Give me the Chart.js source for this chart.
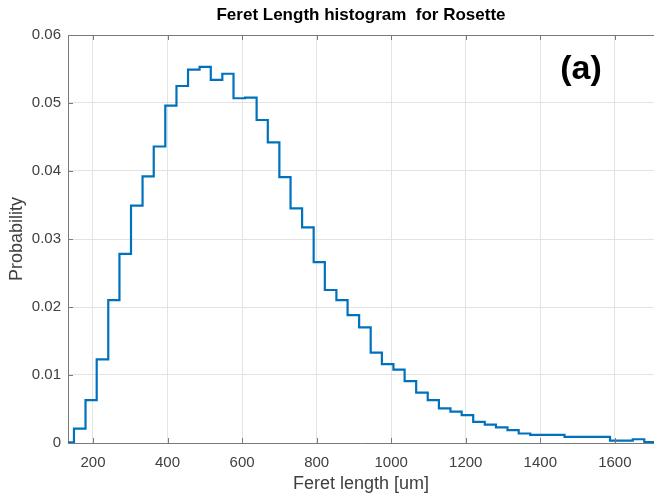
<!DOCTYPE html>
<html>
<head>
<meta charset="utf-8">
<script src="https://cdn.jsdelivr.net/npm/chart.js@4.4.0/dist/chart.umd.min.js"></script>
<style>
  html, body { margin: 0; padding: 0; background: #fff; }
  #wrap { width: 654px; height: 499px; }
</style>
</head>
<body>
<div id="wrap"><canvas id="grafica" width="654" height="499"></canvas></div>
<script>
// --------------------- DATOS DEL HISTOGRAMA ---------------------
// bordes de los bins (borde izquierdo de cada bin + borde final)
const bordesBin = [118, 149, 180, 210, 241, 271, 302, 333, 363, 394, 424, 455, 486, 516, 547, 577,
  608, 639, 669, 700, 730, 761, 792, 822, 853, 883, 914, 945, 975, 1006, 1036, 1067, 1098, 1128,
  1159, 1189, 1220, 1251, 1281, 1312, 1342, 1373, 1404, 1434, 1465, 1495, 1526, 1557, 1587, 1618,
  1648, 1679, 1710];

// probabilidad de cada bin
const probabilidad = [0.0001, 0.0021, 0.0063, 0.0123, 0.0210, 0.0278, 0.0349, 0.0392, 0.0436, 0.0496,
  0.0525, 0.0549, 0.0553, 0.0534, 0.0543, 0.0507, 0.0508, 0.0475, 0.0442, 0.0391, 0.0345, 0.0317,
  0.0266, 0.0225, 0.0210, 0.0188, 0.0170, 0.0133, 0.0116, 0.0108, 0.0091, 0.0074, 0.0063, 0.0051,
  0.0046, 0.0041, 0.0031, 0.0027, 0.0023, 0.0019, 0.0014, 0.0012, 0.0012, 0.0012, 0.0009, 0.0009,
  0.0009, 0.0009, 0.00035, 0.00035, 0.00055, 0.00015];

// marcas de los ejes
const ticksX = [200, 400, 600, 800, 1000, 1200, 1400, 1600];
const ticksY = [0, 0.01, 0.02, 0.03, 0.04, 0.05, 0.06];

// --------------------- PUNTOS PARA LA ESCALERA ---------------------
// cada punto abre su bin, el ultimo cierra el bin final
const puntos = bordesBin.map((b, i) => ({
  x: b,
  y: probabilidad[Math.min(i, probabilidad.length - 1)]
}));

const fuente = '"Liberation Sans", Arial, Helvetica, sans-serif';
const colorEje = '#7a7a7a';

// --------------------- MARCAS INTERNAS, CAJA Y ETIQUETA (a) ---------------------
const marcasInternas = {
  id: 'marcasInternas',
  afterDatasetsDraw(chart) {
    const { ctx, chartArea: a, scales: { x, y } } = chart;
    ctx.save();
    ctx.strokeStyle = colorEje;
    ctx.lineWidth = 1;
    ctx.beginPath();
    // linea superior de la caja
    ctx.moveTo(a.left, a.top + 0.5);
    ctx.lineTo(a.right, a.top + 0.5);
    ticksX.forEach(v => {
      const px = Math.round(x.getPixelForValue(v)) + 0.5;
      ctx.moveTo(px, a.bottom);
      ctx.lineTo(px, a.bottom - 5);
      ctx.moveTo(px, a.top);
      ctx.lineTo(px, a.top + 5);
    });
    ticksY.forEach(v => {
      const py = Math.round(y.getPixelForValue(v)) + 0.5;
      ctx.moveTo(a.left, py);
      ctx.lineTo(a.left + 5, py);
    });
    ctx.stroke();

    // etiqueta del panel
    ctx.fillStyle = '#000';
    ctx.font = 'bold 34px ' + fuente;
    ctx.textAlign = 'center';
    ctx.textBaseline = 'middle';
    ctx.fillText('(a)', 581, 70);
    ctx.restore();
  }
};

// --------------------- GRAFICA ---------------------
new Chart(document.getElementById('grafica'), {
  type: 'line',
  data: {
    datasets: [{
      data: puntos,
      stepped: 'before',
      borderColor: '#0072BD',
      borderWidth: 2.2,
      pointRadius: 0,
      fill: false
    }]
  },
  options: {
    responsive: false,
    animation: false,
    devicePixelRatio: 1,
    layout: { padding: { left: 0, right: 0, top: 0, bottom: 0 } },
    plugins: {
      legend: { display: false },
      tooltip: { enabled: false },
      title: {
        display: true,
        fullSize: false,
        text: 'Feret Length histogram  for Rosette',
        color: '#000',
        font: { family: fuente, size: 17, weight: 'bold', lineHeight: 1.2 },
        padding: { top: 5, bottom: 9.6 }
      }
    },
    scales: {
      x: {
        type: 'linear',
        min: 133,
        max: 1705,
        afterBuildTicks: s => { s.ticks = ticksX.map(v => ({ value: v })); },
        afterFit: s => { s.height = 56; },
        grid: { color: '#e3e3e3', drawTicks: false },
        border: { color: colorEje },
        ticks: {
          color: '#404040',
          font: { family: fuente, size: 15 },
          padding: 11,
          maxRotation: 0,
          callback: v => String(v)
        },
        title: {
          display: true,
          text: 'Feret length [um]',
          color: '#404040',
          font: { family: fuente, size: 18 },
          padding: { top: 0, bottom: 4 }
        }
      },
      y: {
        min: 0,
        max: 0.06,
        afterBuildTicks: s => { s.ticks = ticksY.map(v => ({ value: v })); },
        afterFit: s => { s.width = 68; },
        grid: { color: '#e3e3e3', drawTicks: false },
        border: { color: colorEje },
        ticks: {
          color: '#404040',
          font: { family: fuente, size: 15 },
          padding: 7,
          callback: v => v === 0 ? '0' : v.toFixed(2)
        },
        title: {
          display: true,
          text: 'Probability',
          color: '#404040',
          font: { family: fuente, size: 18 },
          padding: { top: 6, bottom: 0 }
        }
      }
    }
  },
  plugins: [marcasInternas]
});
</script>
</body>
</html>
